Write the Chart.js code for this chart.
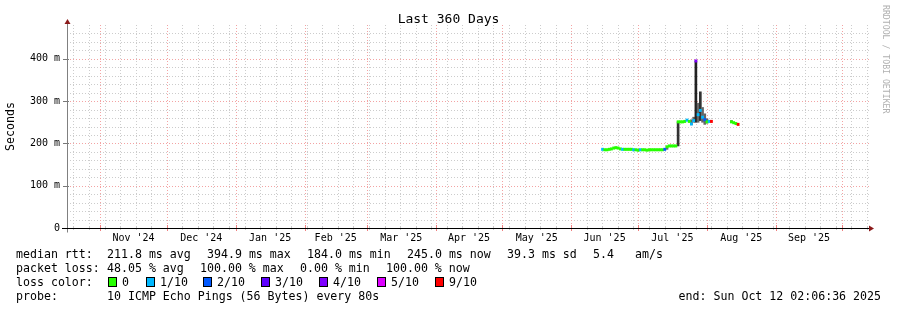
<!DOCTYPE html>
<html>
<head>
<meta charset="utf-8">
<title>Last 360 Days</title>
<script src="https://cdn.jsdelivr.net/npm/chart.js@4.4.1/dist/chart.umd.min.js"></script>
<style>
  body { margin: 0; background: #fff; }
  #wrap { position: relative; width: 897px; height: 310px; overflow: hidden;
          font-family: 'DejaVu Sans Mono', monospace; color: #000; }
  #box { position: absolute; left: 0; top: 0; width: 897px; height: 250px; }
  #title { position: absolute; left: 0; top: 11px; width: 897px; text-align: center;
           font-size: 13px; line-height: 16px; }
  .t { position: absolute; font-size: 11.6px; line-height: 14px; white-space: pre; }
  .sw { position: absolute; width: 7px; height: 8px; border: 1px solid #000; }
  #credit { position: absolute; left: 881px; top: 5px; writing-mode: vertical-rl;
            font-size: 8.2px; line-height: 10px; color: #b0b0b0; }
</style>
</head>
<body>
<div id="wrap">
  <div id="box"><canvas id="chart"></canvas></div>
  <div id="title">Last 360 Days</div>
  <div id="credit">RRDTOOL / TOBI OETIKER</div>

  <div class="t" style="left:16px;top:247px">median rtt:</div>
  <div class="t" style="left:107px;top:247px">211.8 ms avg</div>
  <div class="t" style="left:207px;top:247px">394.9 ms max</div>
  <div class="t" style="left:307px;top:247px">184.0 ms min</div>
  <div class="t" style="left:407px;top:247px">245.0 ms now</div>
  <div class="t" style="left:507px;top:247px">39.3 ms sd</div>
  <div class="t" style="left:593px;top:247px">5.4</div>
  <div class="t" style="left:635px;top:247px">am/s</div>

  <div class="t" style="left:16px;top:261px">packet loss:</div>
  <div class="t" style="left:107px;top:261px">48.05 % avg</div>
  <div class="t" style="left:200px;top:261px">100.00 % max</div>
  <div class="t" style="left:300px;top:261px">0.00 % min</div>
  <div class="t" style="left:386px;top:261px">100.00 % now</div>

  <div class="t" style="left:16px;top:275px">loss color:</div>
  <div id="lossRow"></div>

  <div class="t" style="left:16px;top:289px">probe:</div>
  <div class="t" style="left:107px;top:289px">10 ICMP Echo Pings (56 Bytes) every 80s</div>
  <div class="t" style="right:16px;top:289px">end: Sun Oct 12 02:06:36 2025</div>
</div>

<script>
// Data (x = days since the start of the 360 day window)
const days = [241, 242, 243, 244, 245, 246, 247, 248, 249, 250,
              251, 252, 253, 254, 255, 256, 257, 258, 259, 260,
              261, 262, 263, 264, 265, 266, 267, 268, 269, 270,
              271, 272, 273, 274, 275, 276, 277, 278, 279, 280,
              281, 282, 283, 284, 285, 286, 287, 288, 289, 290,
              299, 300, 301, 302];
const medianMs = [186, 185, 185, 186, 187, 189, 190, 189, 187, 186,
                  186, 186, 186, 186, 185, 185, 184, 185, 185, 185,
                  184, 185, 185, 185, 185, 185, 185, 185, 186, 192,
                  194, 194, 194, 194, 251, 251, 251, 252, 255, 252,
                  246, 254, 395, 268, 278, 262, 256, 251, 252, 252,
                  251, 249, 247, 245];
const lossTenths = [1, 0, 0, 0, 0, 0, 0, 0, 0, 1,
                    0, 0, 0, 0, 1, 0, 0, 1, 0, 0,
                    0, 0, 0, 0, 0, 0, 0, 0, 2, 0,
                    0, 0, 0, 0, 0, 0, 0, 0, 1, 0,
                    1, 1, 4, 1, 1, 1, 2, 0, 1, 9,
                    0, 0, 0, 9];

// smoke (spread of the pings) where it is visible
const smokeDays = [270, 275, 281, 282, 283, 284, 285, 286, 287, 288, 299];
const smokeLo   = [186, 194, 244, 250, 250, 250, 254, 250, 245, 248, 250];
const smokeHi   = [193, 251, 256, 262, 395, 295, 322, 285, 270, 258, 254];

const lossLevels = [0, 1, 2, 3, 4, 5, 9];
const lossLabels = ['0', '1/10', '2/10', '3/10', '4/10', '5/10', '9/10'];
const lossColors = ['#26ff00', '#00b8ff', '#0059ff', '#5e00ff', '#7e00ff', '#dd00ff', '#ff0000'];

const monthLabels = ["Nov '24", "Dec '24", "Jan '25", "Feb '25", "Mar '25", "Apr '25",
                     "May '25", "Jun '25", "Jul '25", "Aug '25", "Sep '25"];
const yTicks = [0, 100, 200, 300, 400];

// time helpers
const DAY = 86400000;
const startTime = Date.UTC(2024, 9, 17, 2, 6, 36);
const toDay = t => (t - startTime) / DAY;
const monthStarts = [];
for (let i = 0; i < 12; i++) monthStarts.push(toDay(Date.UTC(2024, 10 + i, 1)));
const monthMids = monthLabels.map((_, i) => (monthStarts[i] + monthStarts[i + 1]) / 2);
const weekLines = [];
for (let d = toDay(Date.UTC(2024, 9, 20)); d < 360; d += 7) weekLines.push(d);

function colorForLoss(l) {
    let c = lossColors[0];
    lossLevels.forEach((lv, i) => { if (l >= lv) c = lossColors[i]; });
    return c;
}

// loss color legend
const lossBoxLeft = [108, 146, 203, 261, 319, 377, 435];
const lossRow = document.getElementById('lossRow');
lossLabels.forEach((lab, i) => {
    const sw = document.createElement('div');
    sw.className = 'sw';
    sw.style.left = lossBoxLeft[i] + 'px';
    sw.style.top = '277px';
    sw.style.background = lossColors[i];
    lossRow.appendChild(sw);
    const t = document.createElement('div');
    t.className = 't';
    t.style.left = (lossBoxLeft[i] + 14) + 'px';
    t.style.top = '275px';
    t.textContent = lab;
    lossRow.appendChild(t);
});

const medianPoints = days.map((d, i) => ({ x: d, y: medianMs[i], loss: lossTenths[i] }));
const smokePoints = smokeDays.map((d, i) => ({ x: d, y: [smokeLo[i], smokeHi[i]] }));

// rrdtool style grid, axes and arrows
const rrdGrid = {
    id: 'rrdGrid',
    beforeDatasetsDraw(chart) {
        const { ctx, chartArea: a, scales: { x, y } } = chart;
        const px = v => Math.round(v) + 0.5;
        ctx.save();
        ctx.lineWidth = 1;
        ctx.setLineDash([1, 2]);

        ctx.strokeStyle = '#cccccc';
        ctx.beginPath();
        for (let v = 20; v < 480; v += 20) {
            if (v % 100 === 0) continue;
            const yy = px(y.getPixelForValue(v));
            ctx.moveTo(a.left, yy); ctx.lineTo(a.right + 3, yy);
        }
        weekLines.forEach(d => {
            const xx = px(x.getPixelForValue(d));
            ctx.moveTo(xx, a.top); ctx.lineTo(xx, a.bottom);
        });
        ctx.stroke();

        ctx.strokeStyle = '#f3a3a3';
        ctx.beginPath();
        yTicks.slice(1).forEach(v => {
            const yy = px(y.getPixelForValue(v));
            ctx.moveTo(a.left, yy); ctx.lineTo(a.right + 3, yy);
        });
        monthStarts.forEach(d => {
            if (d <= 0 || d >= 360) return;
            const xx = px(x.getPixelForValue(d));
            ctx.moveTo(xx, a.top); ctx.lineTo(xx, a.bottom);
        });
        ctx.stroke();

        // small tick marks
        ctx.setLineDash([]);
        ctx.strokeStyle = '#c8c8c8';
        ctx.beginPath();
        weekLines.forEach(d => {
            const xx = px(x.getPixelForValue(d));
            ctx.moveTo(xx, a.bottom - 2); ctx.lineTo(xx, a.bottom + 2);
        });
        ctx.stroke();
        ctx.strokeStyle = '#f08080';
        ctx.beginPath();
        monthStarts.forEach(d => {
            if (d <= 0 || d >= 360) return;
            const xx = px(x.getPixelForValue(d));
            ctx.moveTo(xx, a.bottom - 3); ctx.lineTo(xx, a.bottom + 3);
        });
        ctx.stroke();
        ctx.strokeStyle = '#777';
        ctx.beginPath();
        yTicks.forEach(v => {
            const yy = px(y.getPixelForValue(v));
            ctx.moveTo(a.left - 4, yy); ctx.lineTo(a.left + 2, yy);
        });
        ctx.stroke();
        ctx.restore();
    },
    afterDatasetsDraw(chart) {
        const { ctx, chartArea: a } = chart;
        const l = Math.round(a.left) + 0.5, b = Math.round(a.bottom) + 0.5;
        ctx.save();
        ctx.lineWidth = 1;
        ctx.strokeStyle = '#808080';
        ctx.beginPath();
        ctx.moveTo(l, b + 4); ctx.lineTo(l, a.top - 2);
        ctx.stroke();
        ctx.strokeStyle = '#000';
        ctx.beginPath();
        ctx.moveTo(a.left - 5, b); ctx.lineTo(a.right + 3, b);
        ctx.stroke();
        ctx.fillStyle = '#8b1a1a';
        ctx.beginPath();
        ctx.moveTo(l - 3, a.top - 1); ctx.lineTo(l + 3, a.top - 1); ctx.lineTo(l, a.top - 6);
        ctx.closePath(); ctx.fill();
        ctx.beginPath();
        ctx.moveTo(a.right + 2, b - 3); ctx.lineTo(a.right + 2, b + 3); ctx.lineTo(a.right + 7, b);
        ctx.closePath(); ctx.fill();
        ctx.restore();
    }
};

const monoTick = { family: 'DejaVu Sans Mono', size: 10 };

new Chart(document.getElementById('chart'), {
    type: 'line',
    data: {
        datasets: [{
            // median: short horizontal dash per step, coloured by loss
            type: 'line',
            data: medianPoints,
            order: 0,
            showLine: false,
            pointStyle: 'line',
            pointRadius: 1.4,
            pointHoverRadius: 1.4,
            pointBorderWidth: 3,
            pointBorderColor: c => colorForLoss(medianPoints[c.dataIndex].loss)
        }, {
            type: 'bar',
            data: smokePoints,
            order: 1,
            barThickness: 2,
            backgroundColor: c => {
                const r = c.raw && c.raw.y;
                return r && r[1] - r[0] > 100 ? '#222' : (r && r[1] - r[0] > 50 ? '#333' : '#666');
            }
        }]
    },
    options: {
        animation: false,
        responsive: true,
        maintainAspectRatio: false,
        layout: { padding: { top: 25, right: 30, left: 0, bottom: 0 } },
        plugins: { legend: { display: false }, tooltip: { enabled: false } },
        scales: {
            x: {
                type: 'linear',
                min: 0,
                max: 360,
                offset: false,
                grid: { display: false, drawTicks: false },
                border: { display: false },
                afterBuildTicks: s => { s.ticks = monthMids.map(v => ({ value: v })); },
                afterFit: s => { s.height = 22; },
                ticks: {
                    autoSkip: false,
                    maxRotation: 0,
                    padding: 4,
                    color: '#000',
                    font: monoTick,
                    callback: (v, i) => monthLabels[i]
                }
            },
            y: {
                min: 0,
                max: 480,
                grid: { display: false, drawTicks: false },
                border: { display: false },
                afterBuildTicks: s => { s.ticks = yTicks.map(v => ({ value: v })); },
                afterFit: s => { s.width = 67; },
                ticks: {
                    padding: 7,
                    color: '#000',
                    font: monoTick,
                    callback: v => v === 0 ? '0' : v + ' m'
                },
                title: {
                    display: true,
                    text: 'Seconds',
                    color: '#000',
                    padding: { top: 4, bottom: 0 },
                    font: { family: 'DejaVu Sans Mono', size: 11.6 }
                }
            }
        }
    },
    plugins: [rrdGrid]
});
</script>
</body>
</html>
